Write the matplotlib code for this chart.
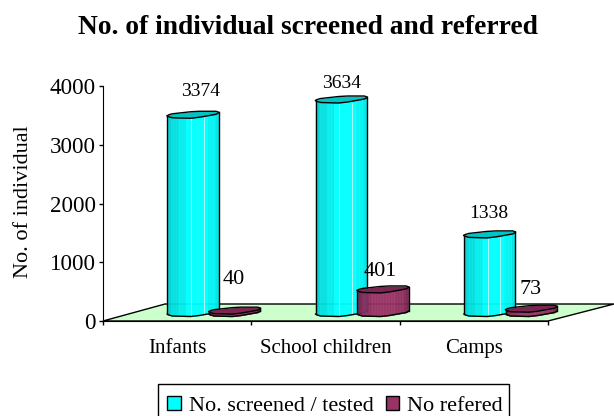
import matplotlib
matplotlib.use('Agg')
import matplotlib.pyplot as plt
from matplotlib.patches import Patch, Polygon, Rectangle
import numpy as np

plt.rcParams['font.family'] = 'Liberation Serif'

categories = ['Infants', 'School children', 'Camps']
screened = [3374, 3634, 1338]
referred = [40, 401, 73]
series_names = ['No. screened / tested', 'No refered']

W, H = 614, 416
PX = 4000 / 235.0          # value units per pixel
CAT = 445 / 3.0            # pixels per category

# pseudo 3d shape, pixels
base = 6 * PX
depth_x = 62 / CAT
depth_y = 17 * PX
t_knots = [0, 0.03, 0.1, 0.45, 0.62, 0.95, 1]
front_knots = [1, 0, -1, -1.5, -0.5, 2.5, 4]
back_knots = [1, 2, 3, 5, 5.5, 5.5, 4.5]

cyan_shades = ['#00d2d2', '#00e0e0', '#00eeee', '#00ffff', '#00ffff', '#00ffff', '#00f4f4', '#00e6e6']
maroon_shades = ['#7a2552', '#8a2d5e', '#993366', '#993366', '#993366', '#8f2f60', '#7a2552']

fig = plt.figure(figsize=(W / 100, H / 100), dpi=100)
ax = fig.add_axes([103 / W, 1 - 321 / H, 445 / W, 235 / H])
ax.set_xlim(0, 3)
ax.set_ylim(0, 4000)


def cylinder(left, value, shades, cap, z, seams=False):
    width = 51.5 / CAT
    t = np.linspace(0, 1, 71)
    xs = left + t * width
    front = np.interp(t, t_knots, front_knots) * PX
    back = np.interp(t, t_knots, back_knots) * PX
    y0 = base + front
    y1 = base + value + front
    idx = np.linspace(0, len(shades) - 1, len(t) - 1).round().astype(int)
    for i in range(len(t) - 1):
        ax.fill_between(xs[i:i + 2], y0[i:i + 2], y1[i:i + 2], color=shades[idx[i]],
                        lw=0.3, zorder=z, clip_on=False)
    if seams:
        for s in [0.46, 0.71]:
            ax.plot([left + s * width] * 2, [base, base + value - 1.5 * PX], color='#aaffff',
                    lw=0.7, zorder=z + 0.05, clip_on=False)
    # outline and top cap
    ax.fill_between(xs, y1, base + value + back, color=cap, lw=0, zorder=z + 0.1, clip_on=False)
    ax.plot(xs, y1, color='black', lw=1, zorder=z + 0.2, clip_on=False)
    ax.plot(xs, base + value + back, color='black', lw=1, zorder=z + 0.2, clip_on=False)
    ax.plot(xs, y0, color='black', lw=1, zorder=z + 0.2, clip_on=False)
    ax.plot([xs[0], xs[0]], [y0[0], y1[0]], color='black', lw=1, zorder=z + 0.2, clip_on=False)
    ax.plot([xs[-1], xs[-1]], [y0[-1], base + value + back[-1]], color='black', lw=1,
            zorder=z + 0.2, clip_on=False)


# floor
floor = Polygon([[0, 0], [3, 0], [3 + 66 / CAT, depth_y], [depth_x, depth_y]], closed=True,
                facecolor='#ccffcc', edgecolor='black', lw=1, zorder=1, clip_on=False)
ax.add_patch(floor)

for i in range(len(categories)):
    cylinder(i + 0.433, screened[i], cyan_shades, '#00c4c4', 2 + i, seams=True)
    cylinder(i + 0.714, referred[i], maroon_shades, '#7a2552', 2.5 + i)

# value labels, pixel positions off the bar's front left top corner
screened_off = [(8, 25), (0, 18), (-1, 23)]
referred_off = [(-0.5, 33), (-3, 20), (-1, 21)]
for i in range(len(categories)):
    ax.annotate(str(screened[i]), (i + 0.433 + 51.5 / CAT / 2, screened[i] + base),
                xytext=(screened_off[i][0] * 0.72, screened_off[i][1] * 0.72),
                textcoords='offset points', ha='center', va='center', fontsize=14, zorder=10)
    ax.annotate(str(referred[i]), (i + 0.714 + 51.5 / CAT / 2, referred[i] + base),
                xytext=(referred_off[i][0] * 0.72, referred_off[i][1] * 0.72),
                textcoords='offset points', ha='center', va='center', fontsize=16, zorder=10)

ax.patch.set_visible(False)
ax.spines['top'].set_visible(False)
ax.spines['right'].set_visible(False)
ax.spines['left'].set_zorder(5)
ax.spines['bottom'].set_zorder(5)
ax.set_xticks([0, 1, 2, 3])
ax.set_xticklabels([])
ax.set_xticks([0.5, 1.5, 2.5], categories, minor=True, fontsize=15)
ax.tick_params(axis='x', which='major', length=3, width=1)
ax.tick_params(axis='x', which='minor', length=0, pad=13)
ax.set_yticks([0, 1000, 2000, 3000, 4000])
ax.tick_params(axis='y', length=3, width=1, labelsize=16.6, pad=2)
ax.set_ylabel('No. of individual', fontsize=16)
ax.yaxis.set_label_coords((33 - 103) / 445, 0.51)

fig.text(308 / W, 1 - 27 / H, 'No. of individual screened and referred', ha='center', va='center',
         fontsize=19.8, fontweight='bold')

# legend box runs off the bottom of the picture
fig.add_artist(Rectangle((158 / W, 1 - 430 / H), 351 / W, 46.5 / H, transform=fig.transFigure,
                         facecolor='white', edgecolor='black', lw=1))
handles = [Patch(facecolor='#00ffff', edgecolor='black', lw=1),
           Patch(facecolor='#993366', edgecolor='black', lw=1)]
leg = fig.legend(handles, series_names, ncol=2, loc='center left',
                 bbox_to_anchor=(167 / W, 1 - 406 / H), bbox_transform=fig.transFigure,
                 fontsize=16, frameon=False, borderaxespad=0, borderpad=0,
                 handlelength=0.62, handleheight=0.62, handletextpad=0.35, columnspacing=0.55)

fig.savefig('out.png', dpi=100)
